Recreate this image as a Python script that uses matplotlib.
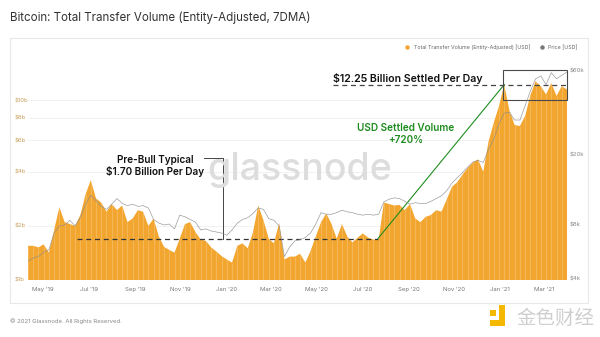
import numpy as np
import pandas as pd
import matplotlib
matplotlib.use("Agg")
import matplotlib.pyplot as plt
import matplotlib.dates as mdates
from matplotlib.patches import Rectangle
from matplotlib.lines import Line2D

plt.rcParams['font.family'] = ['Inter', 'DejaVu Sans']

# weekly samples
dates = pd.date_range('2019-04-11', periods=104, freq='7D')

volume_b = [1.55, 1.55, 1.52, 1.58, 1.42, 1.9, 2.55, 2.1, 2.05, 2.0,
            2.3, 3.0, 3.6, 2.85, 2.7, 2.4, 2.65, 2.45, 2.6, 2.1,
            2.2, 2.45, 2.4, 2.0, 2.2, 1.75, 1.53, 1.47, 1.42, 1.7,
            2.05, 2.1, 1.85, 1.68, 1.65, 1.52, 1.44, 1.36, 1.3, 1.25,
            1.55, 1.6, 1.5, 1.85, 2.6, 2.15, 1.7, 1.6, 2.08, 1.3,
            1.35, 1.35, 1.4, 1.25, 1.45, 1.75, 2.1, 2.35, 2.05, 1.7,
            2.05, 1.75, 1.62, 1.72, 1.82, 1.72, 1.68, 1.67, 2.7, 2.65,
            2.6, 2.62, 2.45, 2.65, 2.2, 2.1, 2.25, 2.3, 2.45, 2.4,
            2.8, 3.3, 3.5, 3.85, 4.2, 4.5, 4.7, 4.0, 5.9, 7.5,
            9.3, 12.25, 8.8, 7.3, 7.2, 8.2, 10.7, 12.8, 12.0, 10.8,
            12.5, 10.6, 12.0, 11.5]

price_k = [5.0, 5.2, 5.3, 5.6, 5.8, 7.2, 7.9, 8.0, 8.5, 7.9,
           8.8, 10.5, 11.8, 11.0, 10.2, 9.8, 10.5, 11.3, 10.6, 10.3,
           10.5, 10.2, 10.3, 10.0, 8.6, 8.2, 8.0, 8.1, 7.6, 9.1,
           8.9, 8.6, 8.3, 7.5, 7.6, 7.4, 7.3, 7.2, 7.0, 7.5,
           8.2, 8.6, 8.8, 9.3, 10.0, 9.8, 8.7, 8.5, 7.9, 5.3,
           6.0, 6.5, 6.6, 6.8, 7.2, 8.1, 9.4, 9.2, 9.2, 9.4,
           9.7, 9.5, 9.4, 9.2, 9.1, 9.2, 9.1, 9.2, 10.8, 11.2,
           11.4, 11.3, 10.9, 10.5, 10.7, 10.6, 10.6, 10.9, 11.3, 11.7,
           12.5, 13.8, 14.8, 15.8, 17.0, 18.2, 18.6, 18.1, 21.5, 24.5,
           30.0, 34.5, 34.8, 31.5, 31.5, 38.0, 46.0, 54.0, 56.0, 50.0,
           58.5, 54.0, 56.5, 59.0]

volume = np.array(volume_b) * 1e9
price = np.array(price_k) * 1e3

prebull_level = 1.70e9
prebull_start, prebull_end = pd.Timestamp('2019-06-16'), pd.Timestamp('2020-07-22')
peak_level = 12.25e9
peak_date = dates[91]
peak_line_start = pd.Timestamp('2020-05-23')
box_start = pd.Timestamp('2021-01-05')
box_low, box_high = 10.1e9, 14.8e9

left_ticks = [1e9, 2e9, 4e9, 6e9, 8e9, 10e9]
left_labels = ['$1b', '$2b', '$4b', '$6b', '$8b', '$10b']
right_ticks = [4e3, 8e3, 20e3, 60e3]
right_labels = ['$4k', '$8k', '$20k', '$60k']

orange = '#f2a630'

fig = plt.figure(figsize=(6, 3.37), dpi=100)
fig.patch.set_facecolor('white')
fig.patches.append(Rectangle((10/600, 1 - 303/337), 578/600, 265/337,
                             transform=fig.transFigure, facecolor='white',
                             edgecolor='#e8e8e8', lw=0.8, zorder=-10))

ax = fig.add_axes([28/600, 1 - 280/337, 539/600, 220/337])
ax.set_yscale('log')
ax.set_ylim(1e9, 16.8e9)
ax.set_xlim(dates[0], dates[-1])

ax.fill_between(dates, 1e8, volume, color=orange, lw=0, zorder=2)
ax.vlines(dates, 1e8, volume, color='white', lw=0.4, alpha=0.35, zorder=2.5)

ax.set_yticks(left_ticks)
ax.set_yticklabels(left_labels)
ax.yaxis.set_minor_locator(matplotlib.ticker.NullLocator())
ax.tick_params(axis='y', length=0, pad=9.4, labelsize=4.3, labelcolor='#c9a25e')
for lab in ax.get_yticklabels():
    lab.set_horizontalalignment('left')
ax.grid(axis='y', color='#f0f0f0', lw=0.6, zorder=0)
ax.set_axisbelow(True)

ax.xaxis.set_major_locator(mdates.MonthLocator(bymonth=[1, 3, 5, 7, 9, 11]))
ax.xaxis.set_major_formatter(mdates.DateFormatter("%b '%y"))
ax.tick_params(axis='x', length=0, pad=5, labelsize=4.3, labelcolor='#777777')
for s in ax.spines.values():
    s.set_visible(False)

ax2 = ax.twinx()
ax2.set_yscale('log')
ax2.set_ylim(3.9e3, 69e3)
ax2.plot(dates, price, color='#8c8c8c', lw=0.5, alpha=0.85, zorder=3)
ax2.set_yticks(right_ticks)
ax2.set_yticklabels(right_labels)
ax2.yaxis.set_minor_locator(matplotlib.ticker.NullLocator())
ax2.tick_params(axis='y', length=0, pad=2, labelsize=4.3, labelcolor='#888888')
for s in ax2.spines.values():
    s.set_visible(False)

# annotations
ax.hlines(prebull_level, prebull_start, prebull_end, colors='#333333', lw=0.9,
          linestyles=(0, (4, 3)), zorder=4)
ax.plot([prebull_end, peak_date], [prebull_level, peak_level], color='#1f8c1f',
        lw=0.8, zorder=4)
ax.hlines(peak_level, peak_line_start, dates[-1], colors='#444444', lw=0.9,
          linestyles=(0, (4, 3)), zorder=4)
ax.add_patch(Rectangle((mdates.date2num(box_start), box_low),
                       mdates.date2num(dates[-1]) - mdates.date2num(box_start),
                       box_high - box_low, fill=False, edgecolor='#4a4a4a',
                       lw=0.8, zorder=5, clip_on=False))

conn_x = pd.Timestamp('2019-12-28')
ax.plot([pd.Timestamp('2019-12-02'), conn_x, conn_x], [4.79e9, 4.79e9, prebull_level],
        color='#444444', lw=0.7, zorder=4)

ax.text(pd.Timestamp('2019-09-28'), 4.3e9, 'Pre-Bull Typical\n$1.70 Billion Per Day',
        ha='center', va='center', fontsize=7.2, fontweight='semibold',
        color='#111111', linespacing=1.15, zorder=6)
ax.text(pd.Timestamp('2020-08-28'), 6.5e9, 'USD Settled Volume\n+720%',
        ha='center', va='center', fontsize=7.2, fontweight='semibold',
        color='#1f8c1f', linespacing=1.15, zorder=6)
ax.text(peak_line_start, 13.3e9, '$12.25 Billion Settled Per Day',
        ha='left', va='center', fontsize=7.6, fontweight='semibold',
        color='#111111', zorder=6)

# watermark, title, legend, footer
fig.text(0.5, 1 - 170/337, 'glassnode', ha='center', va='center', fontsize=27,
         color='#dddddd', fontweight='medium', zorder=10)
fig.text(10/600, 1 - 18/337, 'Bitcoin: Total Transfer Volume (Entity-Adjusted, 7DMA)',
         ha='left', va='center', fontsize=8.3, color='#333333')
fig.text(10/600, 1 - 321/337, '\u00a9 2021 Glassnode. All Rights Reserved.',
         ha='left', va='center', fontsize=4.3, color='#888888')

handles = [Line2D([], [], ls='none', marker='o', ms=2.2, color=orange),
           Line2D([], [], ls='none', marker='o', ms=2.2, color='#777777')]
fig.legend(handles, ['Total Transfer Volume (Entity-Adjusted) [USD]', 'Price [USD]'],
           loc='center right', bbox_to_anchor=(582/600, 1 - 47/337), ncol=2,
           frameon=False, fontsize=3.8, handletextpad=0.2, columnspacing=1.2,
           labelcolor='#666666')

# jinse logo
for (x0, y0, w, h) in [(499, 305, 6, 21), (490, 320, 15, 6), (490, 310, 6, 6)]:
    fig.patches.append(Rectangle((x0/600, 1 - (y0 + h)/337), w/600, h/337,
                                 transform=fig.transFigure, facecolor='#f5b800',
                                 lw=0))
fig.text(555/600, 1 - 318/337, '金色财经', ha='center', va='center', fontsize=14,
         color='#cfcfcf', family=['Noto Sans CJK SC', 'DejaVu Sans'])

fig.savefig('out.png', dpi=100)
